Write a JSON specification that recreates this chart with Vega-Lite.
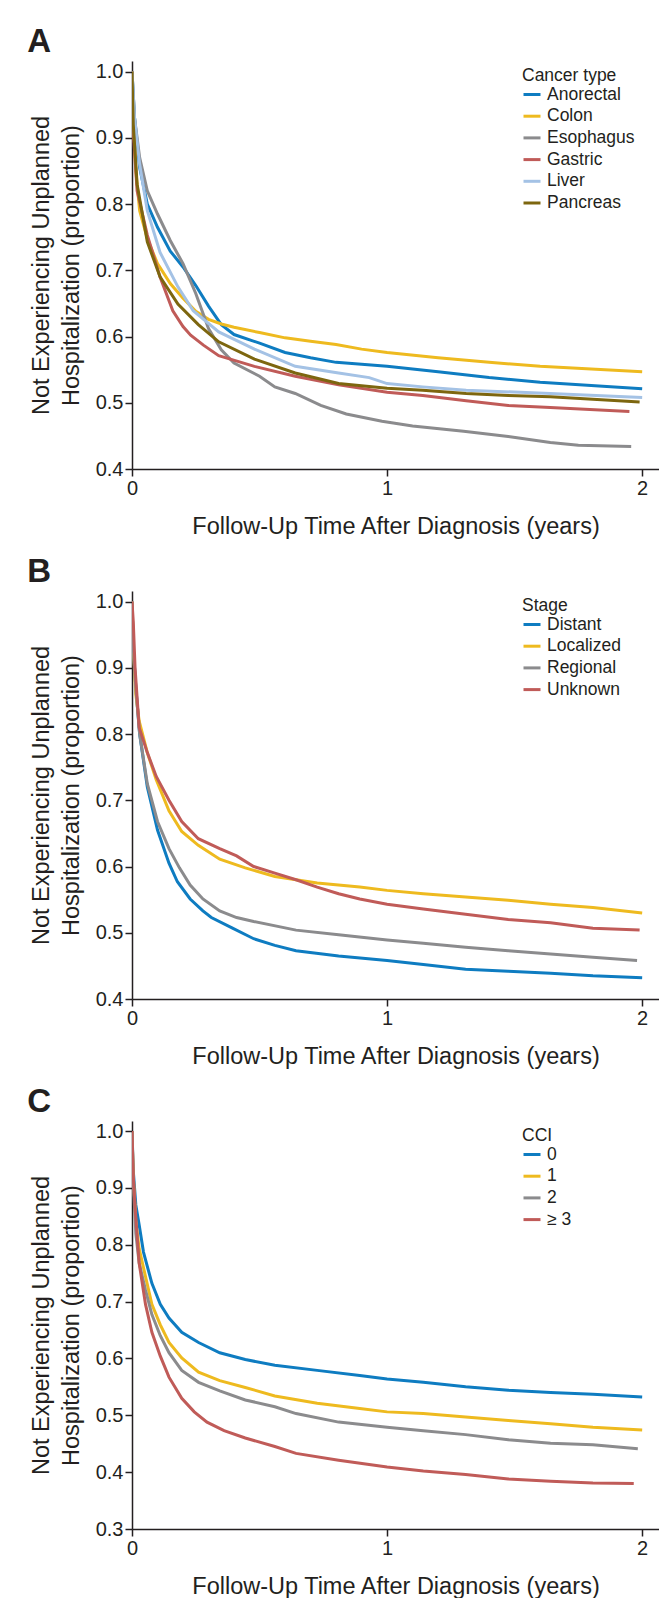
{
  "$schema": "https://vega.github.io/schema/vega-lite/v6.json",
  "background": "white",
  "padding": {"left": 27, "top": 26, "right": 0, "bottom": 0},
  "spacing": 18,
  "config": {
    "font": "Liberation Sans",
    "view": {"stroke": null},
    "axis": {"domainColor": "#231f20", "domainWidth": 1.5, "tickColor": "#231f20", "tickWidth": 1.5, "tickSize": 7, "labelFont": "Liberation Sans", "labelFontSize": 20, "labelColor": "#231f20", "labelPadding": 2, "labelOverlap": false, "labelFlush": false, "titleFont": "Liberation Sans", "titleFontSize": 23.5, "titleFontWeight": "normal", "titleColor": "#231f20", "grid": false},
    "legend": {"orient": "none", "legendX": 390, "legendY": 6, "titleFont": "Liberation Sans", "titleFontSize": 17.5, "titleFontWeight": "normal", "titleColor": "#231f20", "labelFont": "Liberation Sans", "labelFontSize": 17.5, "labelColor": "#231f20", "symbolType": "stroke", "symbolStrokeWidth": 4, "symbolSize": 289, "rowPadding": 2.7, "titlePadding": 0, "labelOffset": 5},
    "title": {"font": "Liberation Sans", "fontSize": 33, "fontWeight": "bold", "color": "#231f20", "anchor": "start", "frame": "bounds", "baseline": "alphabetic", "offset": 2, "dx": -2},
    "line": {"strokeWidth": 3, "interpolate": "linear"}
  },
  "datasets": {
    "a": [
      {"group": "Anorectal", "years": 0, "proportion": 1.0},
      {"group": "Anorectal", "years": 0.01, "proportion": 0.93},
      {"group": "Anorectal", "years": 0.03, "proportion": 0.855},
      {"group": "Anorectal", "years": 0.06, "proportion": 0.8},
      {"group": "Anorectal", "years": 0.1, "proportion": 0.765},
      {"group": "Anorectal", "years": 0.15, "proportion": 0.729},
      {"group": "Anorectal", "years": 0.2, "proportion": 0.705},
      {"group": "Anorectal", "years": 0.25, "proportion": 0.677},
      {"group": "Anorectal", "years": 0.3, "proportion": 0.646},
      {"group": "Anorectal", "years": 0.35, "proportion": 0.618},
      {"group": "Anorectal", "years": 0.4, "proportion": 0.603},
      {"group": "Anorectal", "years": 0.5, "proportion": 0.59},
      {"group": "Anorectal", "years": 0.6, "proportion": 0.576},
      {"group": "Anorectal", "years": 0.7, "proportion": 0.568},
      {"group": "Anorectal", "years": 0.8, "proportion": 0.561},
      {"group": "Anorectal", "years": 0.9, "proportion": 0.558},
      {"group": "Anorectal", "years": 1.0, "proportion": 0.555},
      {"group": "Anorectal", "years": 1.2, "proportion": 0.547},
      {"group": "Anorectal", "years": 1.4, "proportion": 0.538},
      {"group": "Anorectal", "years": 1.6, "proportion": 0.531},
      {"group": "Anorectal", "years": 1.8, "proportion": 0.526},
      {"group": "Anorectal", "years": 2.0, "proportion": 0.521},
      {"group": "Colon", "years": 0, "proportion": 1.0},
      {"group": "Colon", "years": 0.005, "proportion": 0.93},
      {"group": "Colon", "years": 0.015, "proportion": 0.85},
      {"group": "Colon", "years": 0.03, "proportion": 0.79},
      {"group": "Colon", "years": 0.06, "proportion": 0.748},
      {"group": "Colon", "years": 0.1, "proportion": 0.71},
      {"group": "Colon", "years": 0.15, "proportion": 0.68},
      {"group": "Colon", "years": 0.2, "proportion": 0.658},
      {"group": "Colon", "years": 0.25, "proportion": 0.638},
      {"group": "Colon", "years": 0.3, "proportion": 0.626},
      {"group": "Colon", "years": 0.35, "proportion": 0.619},
      {"group": "Colon", "years": 0.4, "proportion": 0.614},
      {"group": "Colon", "years": 0.5, "proportion": 0.606},
      {"group": "Colon", "years": 0.6, "proportion": 0.598},
      {"group": "Colon", "years": 0.7, "proportion": 0.593},
      {"group": "Colon", "years": 0.8, "proportion": 0.588},
      {"group": "Colon", "years": 0.9, "proportion": 0.581},
      {"group": "Colon", "years": 1.0, "proportion": 0.576},
      {"group": "Colon", "years": 1.2, "proportion": 0.568},
      {"group": "Colon", "years": 1.4, "proportion": 0.561},
      {"group": "Colon", "years": 1.6, "proportion": 0.555},
      {"group": "Colon", "years": 1.8, "proportion": 0.551},
      {"group": "Colon", "years": 2.0, "proportion": 0.547},
      {"group": "Esophagus", "years": 0, "proportion": 1.0},
      {"group": "Esophagus", "years": 0.01, "proportion": 0.93},
      {"group": "Esophagus", "years": 0.03, "proportion": 0.87},
      {"group": "Esophagus", "years": 0.06, "proportion": 0.82},
      {"group": "Esophagus", "years": 0.1, "proportion": 0.785},
      {"group": "Esophagus", "years": 0.15, "proportion": 0.745},
      {"group": "Esophagus", "years": 0.2, "proportion": 0.71},
      {"group": "Esophagus", "years": 0.25, "proportion": 0.665},
      {"group": "Esophagus", "years": 0.3, "proportion": 0.612},
      {"group": "Esophagus", "years": 0.35, "proportion": 0.58},
      {"group": "Esophagus", "years": 0.4, "proportion": 0.56},
      {"group": "Esophagus", "years": 0.5, "proportion": 0.54},
      {"group": "Esophagus", "years": 0.56, "proportion": 0.524},
      {"group": "Esophagus", "years": 0.64, "proportion": 0.514},
      {"group": "Esophagus", "years": 0.74, "proportion": 0.496},
      {"group": "Esophagus", "years": 0.84, "proportion": 0.483},
      {"group": "Esophagus", "years": 0.98, "proportion": 0.472},
      {"group": "Esophagus", "years": 1.1, "proportion": 0.465},
      {"group": "Esophagus", "years": 1.3, "proportion": 0.457},
      {"group": "Esophagus", "years": 1.475, "proportion": 0.449},
      {"group": "Esophagus", "years": 1.64, "proportion": 0.44},
      {"group": "Esophagus", "years": 1.75, "proportion": 0.436},
      {"group": "Esophagus", "years": 1.957, "proportion": 0.434},
      {"group": "Gastric", "years": 0, "proportion": 1.0},
      {"group": "Gastric", "years": 0.005, "proportion": 0.91},
      {"group": "Gastric", "years": 0.02, "proportion": 0.82},
      {"group": "Gastric", "years": 0.06, "proportion": 0.753},
      {"group": "Gastric", "years": 0.11, "proportion": 0.69},
      {"group": "Gastric", "years": 0.16, "proportion": 0.639},
      {"group": "Gastric", "years": 0.2, "proportion": 0.615},
      {"group": "Gastric", "years": 0.23, "proportion": 0.602},
      {"group": "Gastric", "years": 0.28, "proportion": 0.587},
      {"group": "Gastric", "years": 0.34, "proportion": 0.571},
      {"group": "Gastric", "years": 0.48, "proportion": 0.555},
      {"group": "Gastric", "years": 0.64, "proportion": 0.54},
      {"group": "Gastric", "years": 0.81, "proportion": 0.527},
      {"group": "Gastric", "years": 1.0, "proportion": 0.516},
      {"group": "Gastric", "years": 1.14, "proportion": 0.511},
      {"group": "Gastric", "years": 1.31, "proportion": 0.503},
      {"group": "Gastric", "years": 1.475, "proportion": 0.496},
      {"group": "Gastric", "years": 1.64, "proportion": 0.493},
      {"group": "Gastric", "years": 1.95, "proportion": 0.487},
      {"group": "Liver", "years": 0, "proportion": 1.0},
      {"group": "Liver", "years": 0.01, "proportion": 0.93},
      {"group": "Liver", "years": 0.03, "proportion": 0.86},
      {"group": "Liver", "years": 0.06, "proportion": 0.79},
      {"group": "Liver", "years": 0.11, "proportion": 0.727},
      {"group": "Liver", "years": 0.18, "proportion": 0.675},
      {"group": "Liver", "years": 0.24, "proportion": 0.639},
      {"group": "Liver", "years": 0.34, "proportion": 0.607},
      {"group": "Liver", "years": 0.48, "proportion": 0.581},
      {"group": "Liver", "years": 0.64, "proportion": 0.555},
      {"group": "Liver", "years": 0.81, "proportion": 0.545},
      {"group": "Liver", "years": 0.93, "proportion": 0.538},
      {"group": "Liver", "years": 1.0, "proportion": 0.529},
      {"group": "Liver", "years": 1.14, "proportion": 0.524},
      {"group": "Liver", "years": 1.31, "proportion": 0.519},
      {"group": "Liver", "years": 1.64, "proportion": 0.514},
      {"group": "Liver", "years": 2.0, "proportion": 0.508},
      {"group": "Pancreas", "years": 0, "proportion": 1.0},
      {"group": "Pancreas", "years": 0.005, "proportion": 0.92},
      {"group": "Pancreas", "years": 0.02, "proportion": 0.83},
      {"group": "Pancreas", "years": 0.06, "proportion": 0.743},
      {"group": "Pancreas", "years": 0.11, "proportion": 0.69},
      {"group": "Pancreas", "years": 0.18, "proportion": 0.649},
      {"group": "Pancreas", "years": 0.26, "proportion": 0.618},
      {"group": "Pancreas", "years": 0.34, "proportion": 0.592},
      {"group": "Pancreas", "years": 0.48, "proportion": 0.566},
      {"group": "Pancreas", "years": 0.64, "proportion": 0.545},
      {"group": "Pancreas", "years": 0.81, "proportion": 0.529},
      {"group": "Pancreas", "years": 1.0, "proportion": 0.522},
      {"group": "Pancreas", "years": 1.14, "proportion": 0.519},
      {"group": "Pancreas", "years": 1.31, "proportion": 0.514},
      {"group": "Pancreas", "years": 1.475, "proportion": 0.511},
      {"group": "Pancreas", "years": 1.64, "proportion": 0.509},
      {"group": "Pancreas", "years": 1.99, "proportion": 0.501}
    ],
    "b": [
      {"group": "Distant", "years": 0, "proportion": 1.0},
      {"group": "Distant", "years": 0.005, "proportion": 0.93},
      {"group": "Distant", "years": 0.015, "proportion": 0.87},
      {"group": "Distant", "years": 0.03, "proportion": 0.8},
      {"group": "Distant", "years": 0.06, "proportion": 0.72},
      {"group": "Distant", "years": 0.1, "proportion": 0.655},
      {"group": "Distant", "years": 0.145, "proportion": 0.605},
      {"group": "Distant", "years": 0.178, "proportion": 0.577},
      {"group": "Distant", "years": 0.228, "proportion": 0.551},
      {"group": "Distant", "years": 0.278, "proportion": 0.533},
      {"group": "Distant", "years": 0.311, "proportion": 0.523},
      {"group": "Distant", "years": 0.394, "proportion": 0.507},
      {"group": "Distant", "years": 0.477, "proportion": 0.491},
      {"group": "Distant", "years": 0.56, "proportion": 0.481},
      {"group": "Distant", "years": 0.643, "proportion": 0.473},
      {"group": "Distant", "years": 0.81, "proportion": 0.465},
      {"group": "Distant", "years": 1.0, "proportion": 0.458},
      {"group": "Distant", "years": 1.142, "proportion": 0.452},
      {"group": "Distant", "years": 1.308, "proportion": 0.445},
      {"group": "Distant", "years": 1.475, "proportion": 0.442},
      {"group": "Distant", "years": 1.641, "proportion": 0.439},
      {"group": "Distant", "years": 1.807, "proportion": 0.435},
      {"group": "Distant", "years": 2.0, "proportion": 0.432},
      {"group": "Localized", "years": 0, "proportion": 1.0},
      {"group": "Localized", "years": 0.005, "proportion": 0.93},
      {"group": "Localized", "years": 0.015, "proportion": 0.86},
      {"group": "Localized", "years": 0.028, "proportion": 0.82},
      {"group": "Localized", "years": 0.06, "proportion": 0.772},
      {"group": "Localized", "years": 0.095, "proportion": 0.731},
      {"group": "Localized", "years": 0.145, "proportion": 0.684},
      {"group": "Localized", "years": 0.195, "proportion": 0.653},
      {"group": "Localized", "years": 0.26, "proportion": 0.632},
      {"group": "Localized", "years": 0.344, "proportion": 0.611},
      {"group": "Localized", "years": 0.444, "proportion": 0.598},
      {"group": "Localized", "years": 0.56, "proportion": 0.585},
      {"group": "Localized", "years": 0.726, "proportion": 0.575},
      {"group": "Localized", "years": 0.893, "proportion": 0.569},
      {"group": "Localized", "years": 1.0, "proportion": 0.564},
      {"group": "Localized", "years": 1.142, "proportion": 0.559},
      {"group": "Localized", "years": 1.308, "proportion": 0.554},
      {"group": "Localized", "years": 1.475, "proportion": 0.549},
      {"group": "Localized", "years": 1.641, "proportion": 0.543},
      {"group": "Localized", "years": 1.807, "proportion": 0.538},
      {"group": "Localized", "years": 2.0, "proportion": 0.53},
      {"group": "Regional", "years": 0, "proportion": 1.0},
      {"group": "Regional", "years": 0.005, "proportion": 0.93},
      {"group": "Regional", "years": 0.015, "proportion": 0.87},
      {"group": "Regional", "years": 0.03, "proportion": 0.8},
      {"group": "Regional", "years": 0.06, "proportion": 0.725},
      {"group": "Regional", "years": 0.1, "proportion": 0.668},
      {"group": "Regional", "years": 0.145, "proportion": 0.627},
      {"group": "Regional", "years": 0.186, "proportion": 0.598},
      {"group": "Regional", "years": 0.228, "proportion": 0.572},
      {"group": "Regional", "years": 0.278, "proportion": 0.551},
      {"group": "Regional", "years": 0.344, "proportion": 0.533},
      {"group": "Regional", "years": 0.41, "proportion": 0.523},
      {"group": "Regional", "years": 0.477, "proportion": 0.517},
      {"group": "Regional", "years": 0.643, "proportion": 0.504},
      {"group": "Regional", "years": 0.81, "proportion": 0.497},
      {"group": "Regional", "years": 1.0, "proportion": 0.489},
      {"group": "Regional", "years": 1.142, "proportion": 0.484},
      {"group": "Regional", "years": 1.308, "proportion": 0.478},
      {"group": "Regional", "years": 1.475, "proportion": 0.473},
      {"group": "Regional", "years": 1.641, "proportion": 0.468},
      {"group": "Regional", "years": 1.807, "proportion": 0.463},
      {"group": "Regional", "years": 1.98, "proportion": 0.458},
      {"group": "Unknown", "years": 0, "proportion": 1.0},
      {"group": "Unknown", "years": 0.005, "proportion": 0.97},
      {"group": "Unknown", "years": 0.012, "proportion": 0.9},
      {"group": "Unknown", "years": 0.028, "proportion": 0.81},
      {"group": "Unknown", "years": 0.06, "proportion": 0.772},
      {"group": "Unknown", "years": 0.095, "proportion": 0.736},
      {"group": "Unknown", "years": 0.145, "proportion": 0.7},
      {"group": "Unknown", "years": 0.195, "proportion": 0.668},
      {"group": "Unknown", "years": 0.26, "proportion": 0.642},
      {"group": "Unknown", "years": 0.344, "proportion": 0.627},
      {"group": "Unknown", "years": 0.41, "proportion": 0.616},
      {"group": "Unknown", "years": 0.477, "proportion": 0.6},
      {"group": "Unknown", "years": 0.56, "proportion": 0.59},
      {"group": "Unknown", "years": 0.643, "proportion": 0.58},
      {"group": "Unknown", "years": 0.726, "proportion": 0.569},
      {"group": "Unknown", "years": 0.81, "proportion": 0.559},
      {"group": "Unknown", "years": 0.893, "proportion": 0.551},
      {"group": "Unknown", "years": 1.0, "proportion": 0.543},
      {"group": "Unknown", "years": 1.142, "proportion": 0.536},
      {"group": "Unknown", "years": 1.308, "proportion": 0.528},
      {"group": "Unknown", "years": 1.475, "proportion": 0.52},
      {"group": "Unknown", "years": 1.641, "proportion": 0.515},
      {"group": "Unknown", "years": 1.807, "proportion": 0.507},
      {"group": "Unknown", "years": 1.99, "proportion": 0.504}
    ],
    "c": [
      {"group": "0", "years": 0, "proportion": 1.0},
      {"group": "0", "years": 0.005, "proportion": 0.93},
      {"group": "0", "years": 0.015, "proportion": 0.87},
      {"group": "0", "years": 0.028, "proportion": 0.835},
      {"group": "0", "years": 0.045, "proportion": 0.787},
      {"group": "0", "years": 0.078, "proportion": 0.732},
      {"group": "0", "years": 0.111, "proportion": 0.695},
      {"group": "0", "years": 0.145, "proportion": 0.671},
      {"group": "0", "years": 0.195, "proportion": 0.646},
      {"group": "0", "years": 0.261, "proportion": 0.628},
      {"group": "0", "years": 0.344, "proportion": 0.61},
      {"group": "0", "years": 0.444, "proportion": 0.598},
      {"group": "0", "years": 0.56, "proportion": 0.588},
      {"group": "0", "years": 0.726, "proportion": 0.579},
      {"group": "0", "years": 0.893, "proportion": 0.57},
      {"group": "0", "years": 1.0, "proportion": 0.564},
      {"group": "0", "years": 1.142, "proportion": 0.558},
      {"group": "0", "years": 1.308, "proportion": 0.55},
      {"group": "0", "years": 1.475, "proportion": 0.544},
      {"group": "0", "years": 1.641, "proportion": 0.54},
      {"group": "0", "years": 1.807, "proportion": 0.537},
      {"group": "0", "years": 2.0, "proportion": 0.532},
      {"group": "1", "years": 0, "proportion": 1.0},
      {"group": "1", "years": 0.005, "proportion": 0.92},
      {"group": "1", "years": 0.015, "proportion": 0.84},
      {"group": "1", "years": 0.028, "proportion": 0.793},
      {"group": "1", "years": 0.053, "proportion": 0.744},
      {"group": "1", "years": 0.078, "proportion": 0.695},
      {"group": "1", "years": 0.111, "proportion": 0.659},
      {"group": "1", "years": 0.145, "proportion": 0.628},
      {"group": "1", "years": 0.195, "proportion": 0.601},
      {"group": "1", "years": 0.261, "proportion": 0.576},
      {"group": "1", "years": 0.344, "proportion": 0.561},
      {"group": "1", "years": 0.444, "proportion": 0.549},
      {"group": "1", "years": 0.56, "proportion": 0.534},
      {"group": "1", "years": 0.726, "proportion": 0.521},
      {"group": "1", "years": 0.893, "proportion": 0.512},
      {"group": "1", "years": 1.0, "proportion": 0.506},
      {"group": "1", "years": 1.142, "proportion": 0.503},
      {"group": "1", "years": 1.308, "proportion": 0.497},
      {"group": "1", "years": 1.475, "proportion": 0.491},
      {"group": "1", "years": 1.641, "proportion": 0.485},
      {"group": "1", "years": 1.807, "proportion": 0.479},
      {"group": "1", "years": 2.0, "proportion": 0.474},
      {"group": "2", "years": 0, "proportion": 1.0},
      {"group": "2", "years": 0.005, "proportion": 0.91},
      {"group": "2", "years": 0.015, "proportion": 0.82},
      {"group": "2", "years": 0.028, "proportion": 0.768},
      {"group": "2", "years": 0.053, "proportion": 0.72},
      {"group": "2", "years": 0.078, "proportion": 0.677},
      {"group": "2", "years": 0.111, "proportion": 0.64},
      {"group": "2", "years": 0.145, "proportion": 0.61},
      {"group": "2", "years": 0.195, "proportion": 0.579},
      {"group": "2", "years": 0.261, "proportion": 0.558},
      {"group": "2", "years": 0.344, "proportion": 0.543},
      {"group": "2", "years": 0.444, "proportion": 0.527},
      {"group": "2", "years": 0.56, "proportion": 0.515},
      {"group": "2", "years": 0.643, "proportion": 0.503},
      {"group": "2", "years": 0.81, "proportion": 0.488},
      {"group": "2", "years": 1.0, "proportion": 0.479},
      {"group": "2", "years": 1.142, "proportion": 0.473},
      {"group": "2", "years": 1.308, "proportion": 0.466},
      {"group": "2", "years": 1.475, "proportion": 0.457},
      {"group": "2", "years": 1.641, "proportion": 0.451},
      {"group": "2", "years": 1.807, "proportion": 0.448},
      {"group": "2", "years": 1.983, "proportion": 0.441},
      {"group": "≥ 3", "years": 0, "proportion": 1.0},
      {"group": "≥ 3", "years": 0.005, "proportion": 0.92},
      {"group": "≥ 3", "years": 0.012, "proportion": 0.866},
      {"group": "≥ 3", "years": 0.028, "proportion": 0.768},
      {"group": "≥ 3", "years": 0.053, "proportion": 0.695},
      {"group": "≥ 3", "years": 0.078, "proportion": 0.646},
      {"group": "≥ 3", "years": 0.111, "proportion": 0.604},
      {"group": "≥ 3", "years": 0.145, "proportion": 0.567},
      {"group": "≥ 3", "years": 0.195, "proportion": 0.53},
      {"group": "≥ 3", "years": 0.244, "proportion": 0.506},
      {"group": "≥ 3", "years": 0.294, "proportion": 0.488},
      {"group": "≥ 3", "years": 0.361, "proportion": 0.473},
      {"group": "≥ 3", "years": 0.444, "proportion": 0.46},
      {"group": "≥ 3", "years": 0.56, "proportion": 0.445},
      {"group": "≥ 3", "years": 0.643, "proportion": 0.433},
      {"group": "≥ 3", "years": 0.81, "proportion": 0.421},
      {"group": "≥ 3", "years": 1.0, "proportion": 0.409},
      {"group": "≥ 3", "years": 1.142, "proportion": 0.402},
      {"group": "≥ 3", "years": 1.308, "proportion": 0.396},
      {"group": "≥ 3", "years": 1.475, "proportion": 0.388},
      {"group": "≥ 3", "years": 1.641, "proportion": 0.384},
      {"group": "≥ 3", "years": 1.807, "proportion": 0.381},
      {"group": "≥ 3", "years": 1.967, "proportion": 0.38}
    ]
  },
  "resolve": {"scale": {"color": "independent", "x": "independent", "y": "independent"}, "legend": {"color": "independent"}},
  "vconcat": [
    {
      "title": {"text": "A"},
      "width": 527,
      "height": 408,
      "data": {"name": "a"},
      "mark": {"type": "line", "clip": true},
      "encoding": {
        "x": {"field": "years", "type": "quantitative", "scale": {"domain": [0, 2.066], "nice": false, "zero": false}, "axis": {"tickCount": 2, "format": "d", "labelOverlap": false, "labelFlush": false, "title": "Follow-Up Time After Diagnosis (years)", "titlePadding": 16}},
        "y": {"field": "proportion", "type": "quantitative", "scale": {"domain": [0.4, 1.016], "nice": false, "zero": false}, "axis": {"values": [0.4, 0.5, 0.6, 0.7, 0.8, 0.9, 1.0], "format": ".1f", "labelOverlap": false, "title": ["Not Experiencing Unplanned", "Hospitalization (proportion)"], "titleLineHeight": 30, "titlePadding": 12}},
        "color": {"field": "group", "type": "nominal", "title": "Cancer type", "scale": {"domain": ["Anorectal", "Colon", "Esophagus", "Gastric", "Liver", "Pancreas"], "range": ["#0e7cc1", "#eeba1f", "#8b8b8d", "#c05b58", "#a4c2e5", "#7d660f"]}}
      }
    },
    {
      "title": {"text": "B"},
      "width": 527,
      "height": 408,
      "data": {"name": "b"},
      "mark": {"type": "line", "clip": true},
      "encoding": {
        "x": {"field": "years", "type": "quantitative", "scale": {"domain": [0, 2.066], "nice": false, "zero": false}, "axis": {"tickCount": 2, "format": "d", "labelOverlap": false, "labelFlush": false, "title": "Follow-Up Time After Diagnosis (years)", "titlePadding": 16}},
        "y": {"field": "proportion", "type": "quantitative", "scale": {"domain": [0.4, 1.016], "nice": false, "zero": false}, "axis": {"values": [0.4, 0.5, 0.6, 0.7, 0.8, 0.9, 1.0], "format": ".1f", "labelOverlap": false, "title": ["Not Experiencing Unplanned", "Hospitalization (proportion)"], "titleLineHeight": 30, "titlePadding": 12}},
        "color": {"field": "group", "type": "nominal", "title": "Stage", "scale": {"domain": ["Distant", "Localized", "Regional", "Unknown"], "range": ["#0e7cc1", "#eeba1f", "#8b8b8d", "#c05b58"]}}
      }
    },
    {
      "title": {"text": "C"},
      "width": 527,
      "height": 408,
      "data": {"name": "c"},
      "mark": {"type": "line", "clip": true},
      "encoding": {
        "x": {"field": "years", "type": "quantitative", "scale": {"domain": [0, 2.066], "nice": false, "zero": false}, "axis": {"tickCount": 2, "format": "d", "labelOverlap": false, "labelFlush": false, "title": "Follow-Up Time After Diagnosis (years)", "titlePadding": 16}},
        "y": {"field": "proportion", "type": "quantitative", "scale": {"domain": [0.3, 1.0176], "nice": false, "zero": false}, "axis": {"values": [0.3, 0.4, 0.5, 0.6, 0.7, 0.8, 0.9, 1.0], "format": ".1f", "labelOverlap": false, "title": ["Not Experiencing Unplanned", "Hospitalization (proportion)"], "titleLineHeight": 30, "titlePadding": 12}},
        "color": {"field": "group", "type": "nominal", "title": "CCI", "scale": {"domain": ["0", "1", "2", "≥ 3"], "range": ["#0e7cc1", "#eeba1f", "#8b8b8d", "#c05b58"]}}
      }
    }
  ]
}
